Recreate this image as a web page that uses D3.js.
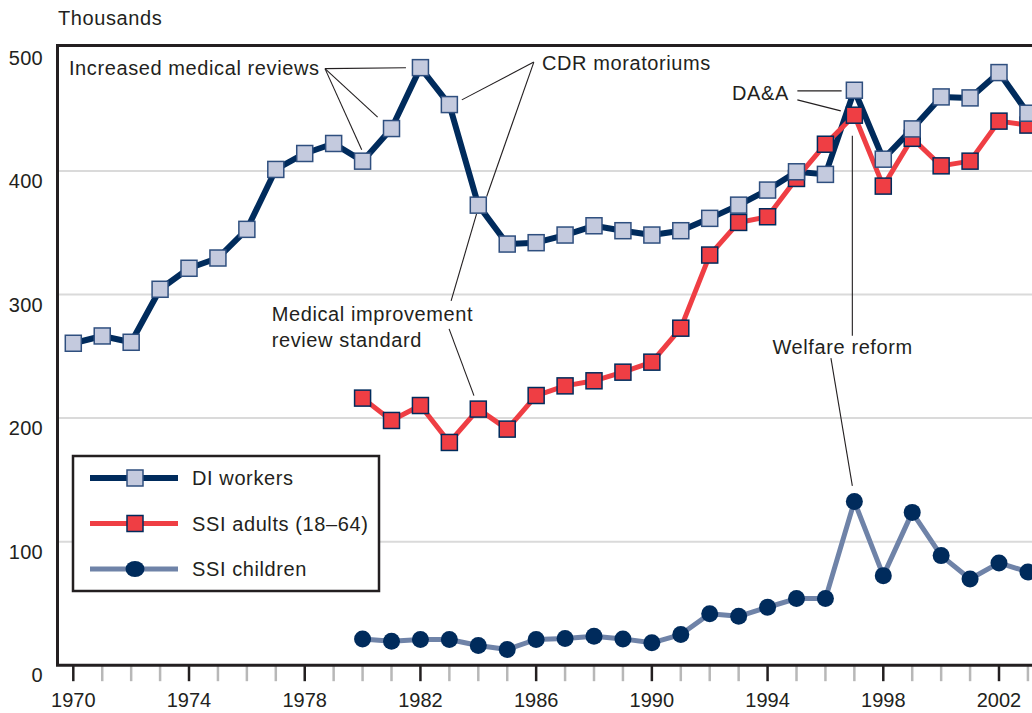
<!DOCTYPE html>
<meta charset="utf-8">
<script src="https://d3js.org/d3.v7.min.js"></script>
<style>
body { margin: 0; background: #fff; }
svg { font-family: "Liberation Sans", Arial, sans-serif; }
.label { font-size: 20px; fill: #231f20; }
.words { letter-spacing: 0.6px; }
</style>
<body>
<div id="chart"></div>
<script>
var years = d3.range(1970, 2004);
var childYears = d3.range(1980, 2004);

var diWorkers = [260.6, 266.5, 261.4, 304.3, 321.3, 329.6, 352.8, 401.3, 414.2, 422.3,
  408.0, 434.4, 483.7, 453.8, 372.4, 340.9, 342.0, 348.2, 355.7, 351.7,
  348.2, 351.7, 361.7, 372.4, 384.6, 399.4, 397.3, 465.4, 409.6, 434.1,
  460.0, 459.2, 479.7, 446.8];

var ssiAdults = [216.2, 198.1, 210.2, 180.3, 207.3, 191.1, 218.3, 226.1, 230.2, 237.2,
  245.3, 272.8, 332.0, 358.4, 363.0, 394.0, 421.7, 445.2, 387.8, 426.5,
  404.2, 408.0, 440.4, 437.2];

var ssiChildren = [21.3, 19.4, 20.8, 20.8, 15.9, 12.7, 20.8, 21.6, 23.4, 21.3,
  18.1, 24.8, 41.6, 39.6, 46.9, 53.9, 53.9, 132.6, 72.5, 123.7,
  88.7, 69.8, 82.8, 75.5];

var yTicks = [0, 100, 200, 300, 400, 500];
var xLabelYears = [1970, 1974, 1978, 1982, 1986, 1990, 1994, 1998, 2002];

var legendNames = ["DI workers", "SSI adults (18\u201364)", "SSI children"];

// annotation text: [text lines, year, value]
var notes = [
  [["Increased medical reviews"], 1969.85, 483.6],
  [["CDR moratoriums"], 1986.2, 487.6],
  [["Medical improvement", "review standard"], 1976.86, 284.4],
  [["DA&A"], 1992.77, 463.3],
  [["Welfare reform"], 1994.17, 257.9]
];

// leader lines: [year1, value1, year2, value2]
var leaders = [
  [1978.70, 482.9, 1981.50, 483.6],
  [1978.70, 482.9, 1980.52, 443.6],
  [1978.70, 482.9, 1979.97, 417.2],
  [1985.92, 488.2, 1983.43, 457.6],
  [1985.92, 488.2, 1984.29, 379.4],
  [1983.06, 294.9, 1983.94, 365.3],
  [1982.99, 272.2, 1983.85, 218.2],
  [1995.03, 464.9, 1996.56, 464.9],
  [1995.03, 457.6, 1996.53, 448.7],
  [1996.93, 266.6, 1996.93, 428.5],
  [1996.19, 248.5, 1996.93, 145.1]
];

var width = 1032, height = 713;
var navy = "#002b5c", red = "#ef3e44", slate = "#6f83a8", pale = "#c4cade";

var x = d3.scaleLinear().domain([1970, 2002]).range([73.3, 999]);
var y = d3.scaleLinear().domain([0, 500]).range([665.2, 47.5]);

var svg = d3.select("#chart").append("svg")
  .attr("width", width)
  .attr("height", height);

var left = 57.5;

// gridlines
svg.append("g").selectAll("line")
  .data(yTicks.filter(d => d > 0 && d < 500))
  .enter().append("line")
  .attr("x1", left).attr("x2", width)
  .attr("y1", d => y(d)).attr("y2", d => y(d))
  .attr("stroke", "#dadada").attr("stroke-width", 2);

// y labels
svg.append("g").selectAll("text")
  .data(yTicks)
  .enter().append("text")
  .attr("class", "label")
  .attr("x", 43)
  .attr("y", d => y(d) + 10)
  .attr("dy", "0.35em")
  .attr("text-anchor", "end")
  .style("letter-spacing", "0.3px")
  .text(d => d);

svg.append("text")
  .attr("class", "label words")
  .attr("x", 58).attr("y", 18).attr("dy", "0.35em")
  .text("Thousands");

// x ticks
var allTicks = d3.range(1970, 2005);
svg.append("g").selectAll("line")
  .data(allTicks)
  .enter().append("line")
  .attr("x1", d => x(d)).attr("x2", d => x(d))
  .attr("y1", y(0)).attr("y2", y(0) + 16)
  .attr("stroke", d => (d - 1970) % 4 == 0 ? "#231f20" : "#b8b8b8")
  .attr("stroke-width", 2.5);

svg.append("g").selectAll("text")
  .data(xLabelYears)
  .enter().append("text")
  .attr("class", "label")
  .attr("x", d => x(d))
  .attr("y", 700).attr("dy", "0.35em")
  .attr("text-anchor", "middle")
  .text(d => d);

// frame
svg.append("path")
  .attr("d", `M${width},${y(500) - 2}H${left}V${y(0)}H${width}`)
  .attr("fill", "none")
  .attr("stroke", "#231f20")
  .attr("stroke-width", 3);

// annotations
var notesG = svg.append("g");
notesG.selectAll("line")
  .data(leaders)
  .enter().append("line")
  .attr("x1", d => x(d[0])).attr("y1", d => y(d[1]))
  .attr("x2", d => x(d[2])).attr("y2", d => y(d[3]))
  .attr("stroke", "#231f20").attr("stroke-width", 1.1);

notes.forEach(function(n) {
  n[0].forEach(function(t, i) {
    notesG.append("text")
      .attr("class", "label words")
      .attr("x", x(n[1]))
      .attr("y", y(n[2]) + i * 26)
      .attr("dy", "0.35em")
      .text(t);
  });
});

var line = d3.line()
  .x(d => x(d[0]))
  .y(d => y(d[1]));

var diData = years.map((yr, i) => [yr, diWorkers[i]]);
var adultData = childYears.map((yr, i) => [yr, ssiAdults[i]]);
var childData = childYears.map((yr, i) => [yr, ssiChildren[i]]);

var sq = 16;

// children
svg.append("path")
  .attr("d", line(childData))
  .attr("fill", "none").attr("stroke", slate).attr("stroke-width", 5)
  .attr("stroke-linejoin", "round");
svg.append("g").selectAll("circle")
  .data(childData)
  .enter().append("circle")
  .attr("cx", d => x(d[0])).attr("cy", d => y(d[1]))
  .attr("r", 8.5).attr("fill", navy);

// DI line, adults line
svg.append("path")
  .attr("d", line(diData))
  .attr("fill", "none").attr("stroke", navy).attr("stroke-width", 6)
  .attr("stroke-linejoin", "round");
svg.append("path")
  .attr("d", line(adultData))
  .attr("fill", "none").attr("stroke", red).attr("stroke-width", 5)
  .attr("stroke-linejoin", "round");

svg.append("g").selectAll("rect")
  .data(adultData)
  .enter().append("rect")
  .attr("x", d => x(d[0]) - sq / 2).attr("y", d => y(d[1]) - sq / 2)
  .attr("width", sq).attr("height", sq)
  .attr("fill", red).attr("stroke", navy).attr("stroke-width", 1.5);

svg.append("g").selectAll("rect")
  .data(diData)
  .enter().append("rect")
  .attr("x", d => x(d[0]) - sq / 2).attr("y", d => y(d[1]) - sq / 2)
  .attr("width", sq).attr("height", sq)
  .attr("fill", pale).attr("stroke", "#2f4f7f").attr("stroke-width", 1.5);

// legend
var lg = svg.append("g").attr("transform", "translate(73,456)");
lg.append("rect")
  .attr("x", 0).attr("y", 0).attr("width", 306).attr("height", 135)
  .attr("fill", "#fff").attr("stroke", "#231f20").attr("stroke-width", 2.5);

var rows = lg.selectAll("g.row")
  .data(legendNames)
  .enter().append("g")
  .attr("class", "row")
  .attr("transform", (d, i) => `translate(0,${22 + i * 45.5})`);

rows.append("line")
  .attr("x1", 17).attr("x2", 105).attr("y1", 0).attr("y2", 0)
  .attr("stroke", (d, i) => [navy, red, slate][i])
  .attr("stroke-width", (d, i) => i == 0 ? 6 : 5);

rows.each(function(d, i) {
  var g = d3.select(this);
  if (i == 2) {
    g.append("ellipse").attr("cx", 62).attr("cy", 0).attr("rx", 9.5).attr("ry", 8).attr("fill", navy);
  } else {
    g.append("rect")
      .attr("x", 62 - sq / 2).attr("y", -sq / 2).attr("width", sq).attr("height", sq)
      .attr("fill", i == 0 ? pale : red)
      .attr("stroke", i == 0 ? "#2f4f7f" : navy).attr("stroke-width", 1.5);
  }
});

rows.append("text")
  .attr("class", "label words")
  .attr("x", 119).attr("y", 0).attr("dy", "0.35em")
  .text(d => d);
</script>
</body>
